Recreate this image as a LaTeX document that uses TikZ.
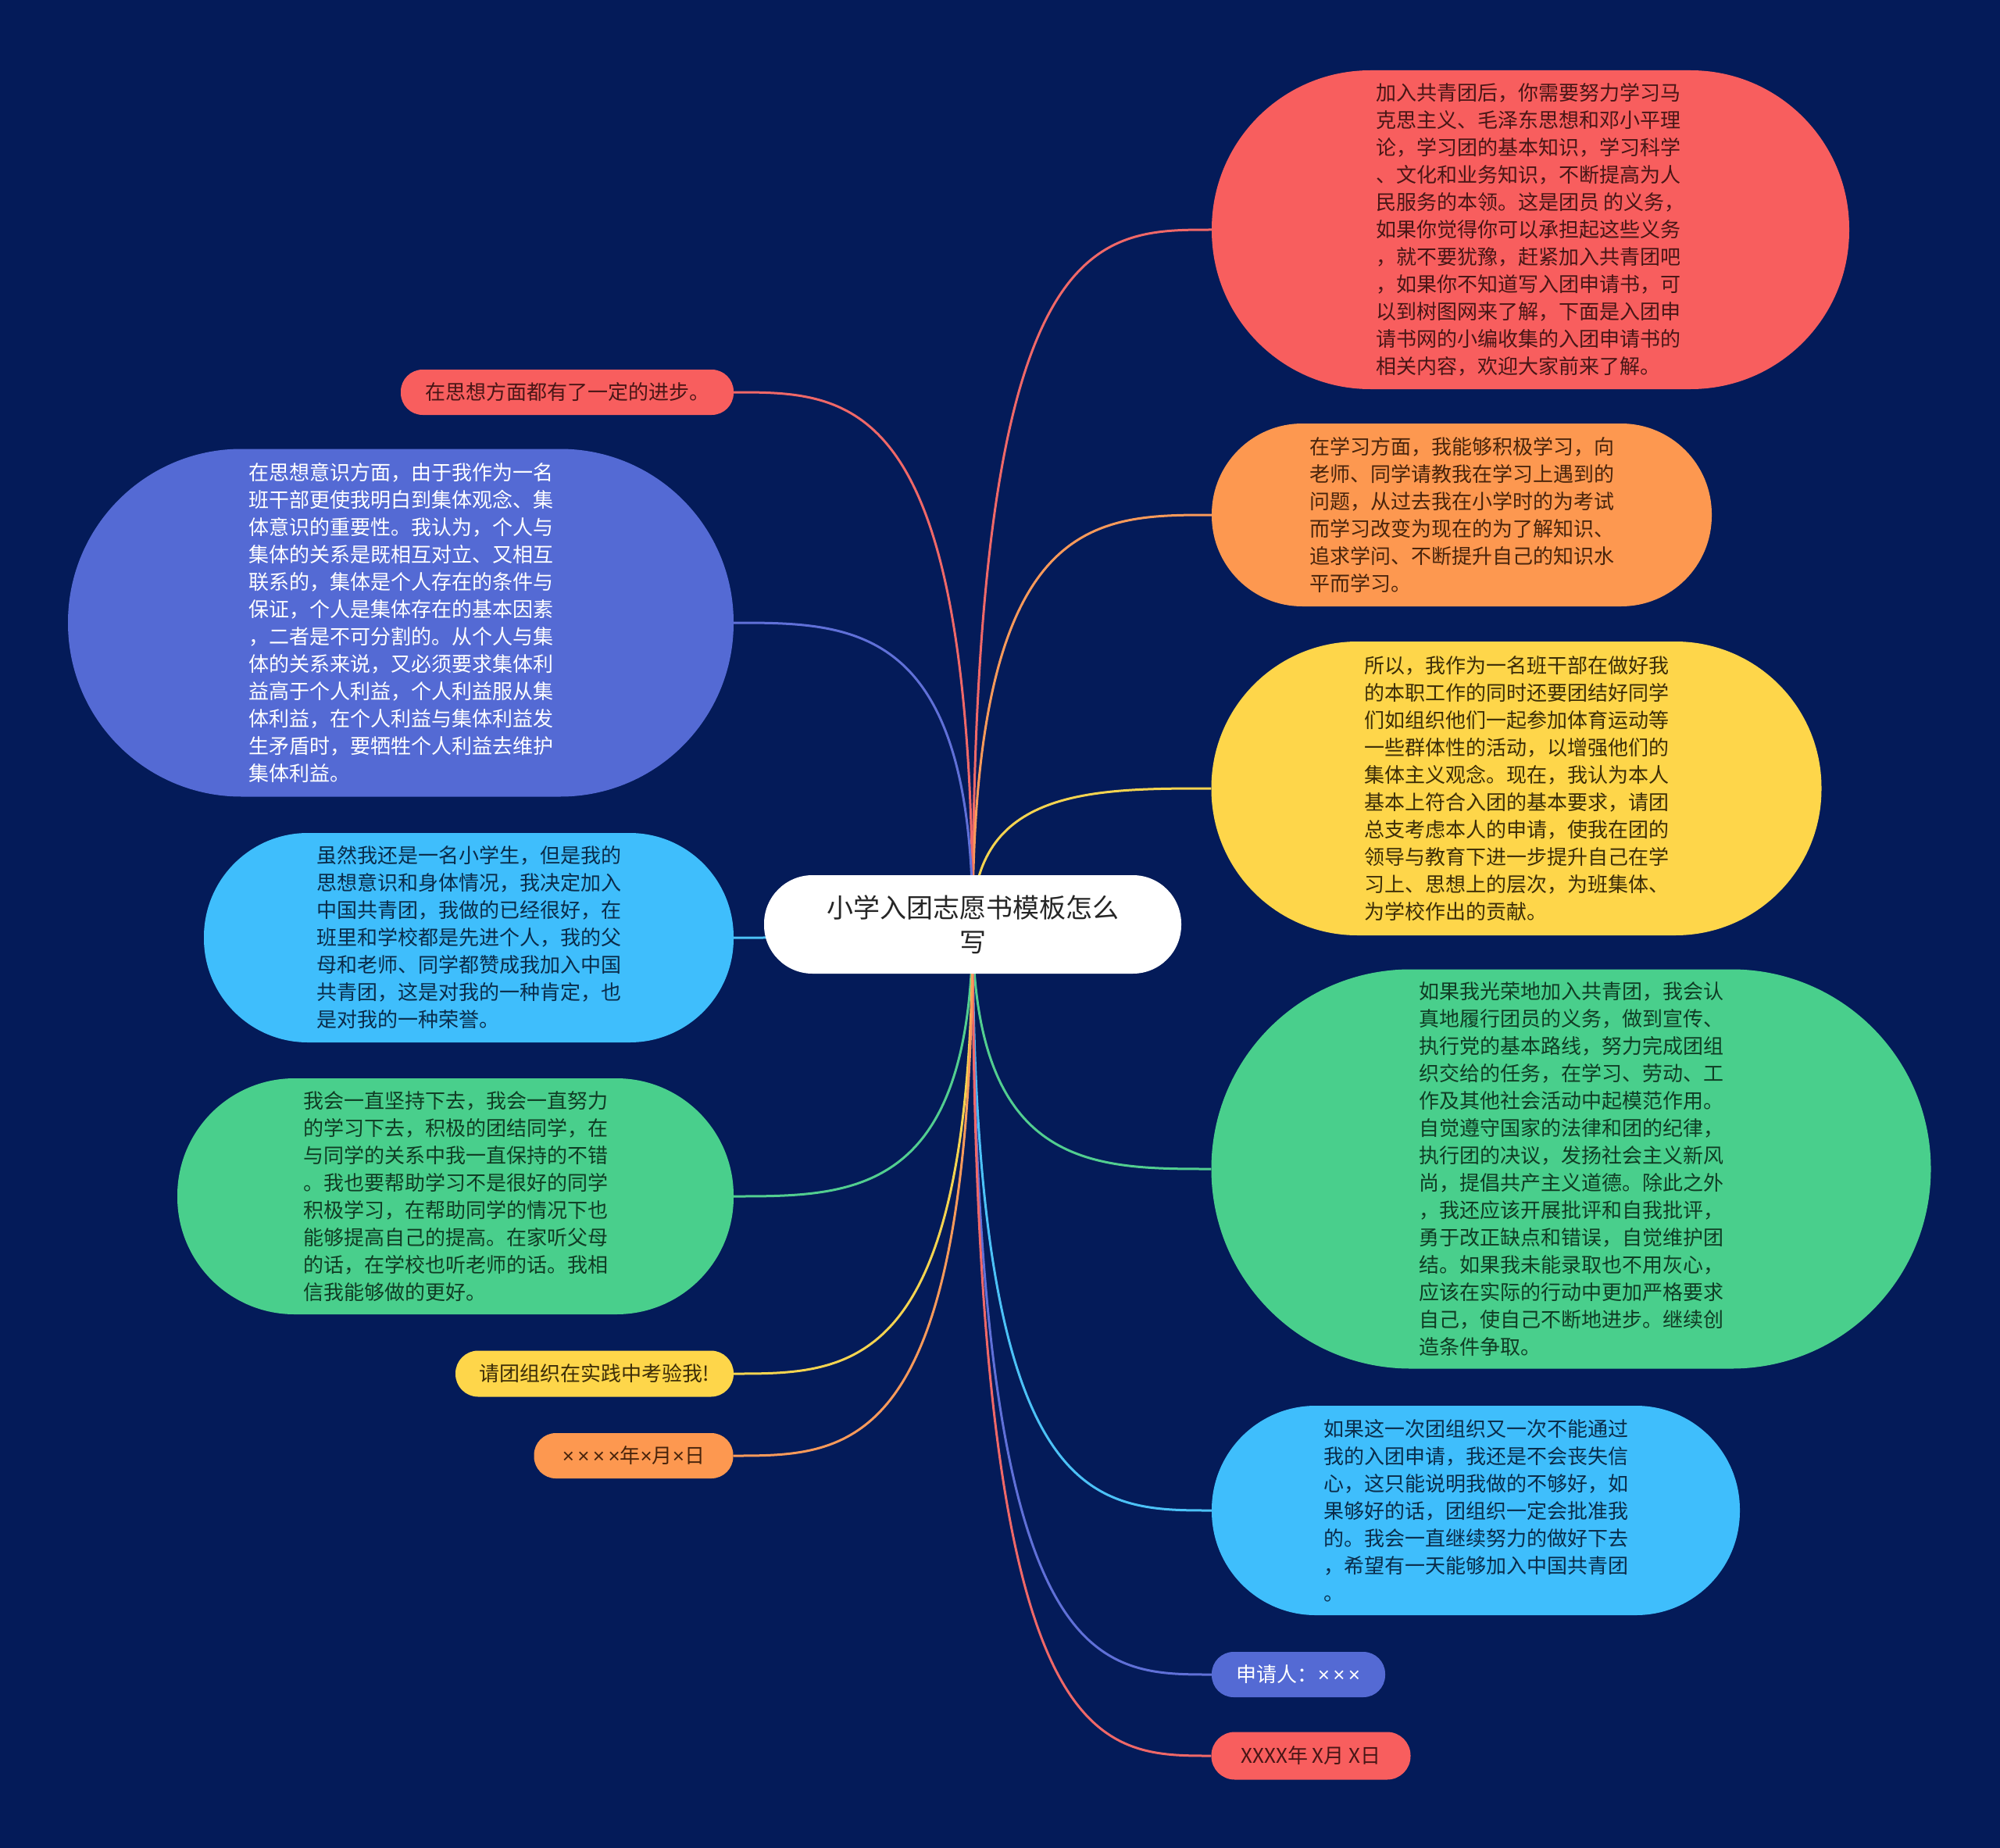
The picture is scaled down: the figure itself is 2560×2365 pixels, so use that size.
\documentclass[tikz,border=0pt]{standalone}
\usepackage{fontspec}
\setmainfont{Noto Sans CJK SC}
\newfontfamily\timesfont{Liberation Sans}
\newcommand\tms{{\timesfont ×}}
\usetikzlibrary{calc}
\definecolor{bgc}{RGB}{4,27,89}
\definecolor{cred}{RGB}{248,94,94}
\definecolor{corange}{RGB}{253,152,80}
\definecolor{cyellow}{RGB}{254,214,74}
\definecolor{cgreen}{RGB}{73,207,140}
\definecolor{cblue}{RGB}{63,190,252}
\definecolor{cindigo}{RGB}{84,106,212}
\definecolor{tred}{RGB}{72,22,22}
\definecolor{torange}{RGB}{72,36,12}
\definecolor{tyellow}{RGB}{60,45,8}
\definecolor{tgreen}{RGB}{16,60,36}
\definecolor{tblue}{RGB}{10,44,74}
\definecolor{ered}{RGB}{240,104,104}
\definecolor{eorange}{RGB}{250,154,90}
\definecolor{eyellow}{RGB}{245,212,80}
\definecolor{egreen}{RGB}{82,206,144}
\definecolor{eblue}{RGB}{76,194,247}
\definecolor{eindigo}{RGB}{96,112,216}
\pgfdeclarelayer{bglayer}
\pgfdeclarelayer{edgelayer}
\pgfsetlayers{bglayer,edgelayer,main}
\tikzset{
  bubble/.style={rectangle, inner sep=0pt, align=left,
    font=\fontsize{26}{35}\selectfont},
  small/.style={rectangle, inner sep=0pt, align=center,
    font=\fontsize{26}{35}\selectfont},
  conn/.style={line width=3pt},
}
\newcommand\linkto[2]{%
  \draw[conn,#1] (root.center) .. controls (root.center |- #2) and ($(root.center |- #2)!0.5!(#2)$) .. (#2);}
\begin{document}
\begin{tikzpicture}[x=1pt,y=1pt]
\begin{pgfonlayer}{bglayer}
\fill[bgc] (0,0) rectangle (2560,-2365);
\end{pgfonlayer}
\useasboundingbox (0,0) rectangle (2560,-2365);

% root
\node[rectangle, fill=white, rounded corners=62pt, minimum width=534pt, minimum height=126pt,
  inner sep=0pt, align=center, text=black!85, font=\fontsize{34}{44}\selectfont]
  (root) at (1245,-1183) {小学入团志愿书模板怎么\\写};

% right side
\node[bubble, fill=cred, text=tred, minimum width=816pt, minimum height=408pt, rounded corners=203pt]
  (r1) at (1959,-294) {加入共青团后，你需要努力学习马\\
克思主义、毛泽东思想和邓小平理\\
论，学习团的基本知识，学习科学\\
、文化和业务知识，不断提高为人\\
民服务的本领。这是团员 的义务，\\
如果你觉得你可以承担起这些义务\\
，就不要犹豫，赶紧加入共青团吧\\
，如果你不知道写入团申请书，可\\
以到树图网来了解，下面是入团申\\
请书网的小编收集的入团申请书的\\
相关内容，欢迎大家前来了解。};

\node[bubble, fill=corange, text=torange, minimum width=640pt, minimum height=234pt, rounded corners=116pt]
  (r2) at (1871,-659) {在学习方面，我能够积极学习，向\\
老师、同学请教我在学习上遇到的\\
问题，从过去我在小学时的为考试\\
而学习改变为现在的为了解知识、\\
追求学问、不断提升自己的知识水\\
平而学习。};

\node[bubble, fill=cyellow, text=tyellow, minimum width=781pt, minimum height=376pt, rounded corners=187pt]
  (r3) at (1941,-1009) {所以，我作为一名班干部在做好我\\
的本职工作的同时还要团结好同学\\
们如组织他们一起参加体育运动等\\
一些群体性的活动，以增强他们的\\
集体主义观念。现在，我认为本人\\
基本上符合入团的基本要求，请团\\
总支考虑本人的申请，使我在团的\\
领导与教育下进一步提升自己在学\\
习上、思想上的层次，为班集体、\\
为学校作出的贡献。};

\node[bubble, fill=cgreen, text=tgreen, minimum width=921pt, minimum height=511pt, rounded corners=255pt]
  (r4) at (2011,-1496) {如果我光荣地加入共青团，我会认\\
真地履行团员的义务，做到宣传、\\
执行党的基本路线，努力完成团组\\
织交给的任务，在学习、劳动、工\\
作及其他社会活动中起模范作用。\\
自觉遵守国家的法律和团的纪律，\\
执行团的决议，发扬社会主义新风\\
尚，提倡共产主义道德。除此之外\\
，我还应该开展批评和自我批评，\\
勇于改正缺点和错误，自觉维护团\\
结。如果我未能录取也不用灰心，\\
应该在实际的行动中更加严格要求\\
自己，使自己不断地进步。继续创\\
造条件争取。};

\node[bubble, fill=cblue, text=tblue, minimum width=676pt, minimum height=268pt, rounded corners=133pt]
  (r5) at (1889,-1933) {如果这一次团组织又一次不能通过\\
我的入团申请，我还是不会丧失信\\
心，这只能说明我做的不够好，如\\
果够好的话，团组织一定会批准我\\
的。我会一直继续努力的做好下去\\
，希望有一天能够加入中国共青团\\
。};

\node[small, fill=cindigo, text=white, minimum width=222pt, minimum height=58pt, rounded corners=28pt]
  (r6) at (1662,-2143) {申请人：\tms\,\tms\,\tms};

\node[small, fill=cred, text=tred, minimum width=255pt, minimum height=61pt, rounded corners=30pt]
  (r7) at (1678,-2247) {XXXX年 X月 X日};

% left side
\node[small, fill=cred, text=tred, minimum width=426pt, minimum height=58pt, rounded corners=28pt]
  (l1) at (726,-502) {在思想方面都有了一定的进步。};

\node[bubble, fill=cindigo, text=white, minimum width=852pt, minimum height=445pt, rounded corners=222pt]
  (l2) at (513,-797) {在思想意识方面，由于我作为一名\\
班干部更使我明白到集体观念、集\\
体意识的重要性。我认为，个人与\\
集体的关系是既相互对立、又相互\\
联系的，集体是个人存在的条件与\\
保证，个人是集体存在的基本因素\\
，二者是不可分割的。从个人与集\\
体的关系来说，又必须要求集体利\\
益高于个人利益，个人利益服从集\\
体利益，在个人利益与集体利益发\\
生矛盾时，要牺牲个人利益去维护\\
集体利益。};

\node[bubble, fill=cblue, text=tblue, minimum width=678pt, minimum height=268pt, rounded corners=133pt]
  (l3) at (600,-1200) {虽然我还是一名小学生，但是我的\\
思想意识和身体情况，我决定加入\\
中国共青团，我做的已经很好，在\\
班里和学校都是先进个人，我的父\\
母和老师、同学都赞成我加入中国\\
共青团，这是对我的一种肯定，也\\
是对我的一种荣誉。};

\node[bubble, fill=cgreen, text=tgreen, minimum width=712pt, minimum height=302pt, rounded corners=150pt]
  (l4) at (583,-1531) {我会一直坚持下去，我会一直努力\\
的学习下去，积极的团结同学，在\\
与同学的关系中我一直保持的不错\\
。我也要帮助学习不是很好的同学\\
积极学习，在帮助同学的情况下也\\
能够提高自己的提高。在家听父母\\
的话，在学校也听老师的话。我相\\
信我能够做的更好。};

\node[small, fill=cyellow, text=tyellow, minimum width=356pt, minimum height=59pt, rounded corners=29pt]
  (l5) at (761,-1758) {请团组织在实践中考验我!};

\node[small, fill=corange, text=torange, minimum width=255pt, minimum height=58pt, rounded corners=28pt]
  (l6) at (811,-1863) {\tms\,\tms\,\tms\,\tms 年\tms 月\tms 日};

% connectors
\begin{pgfonlayer}{edgelayer}
\linkto{ered}{r1.west}
\linkto{eorange}{r2.west}
\linkto{eyellow}{r3.west}
\linkto{egreen}{r4.west}
\linkto{eblue}{r5.west}
\linkto{eindigo}{r6.west}
\linkto{ered}{r7.west}
\linkto{ered}{l1.east}
\linkto{eindigo}{l2.east}
\linkto{eblue}{l3.east}
\linkto{egreen}{l4.east}
\linkto{eyellow}{l5.east}
\linkto{eorange}{l6.east}
\end{pgfonlayer}
\end{tikzpicture}
\end{document}
